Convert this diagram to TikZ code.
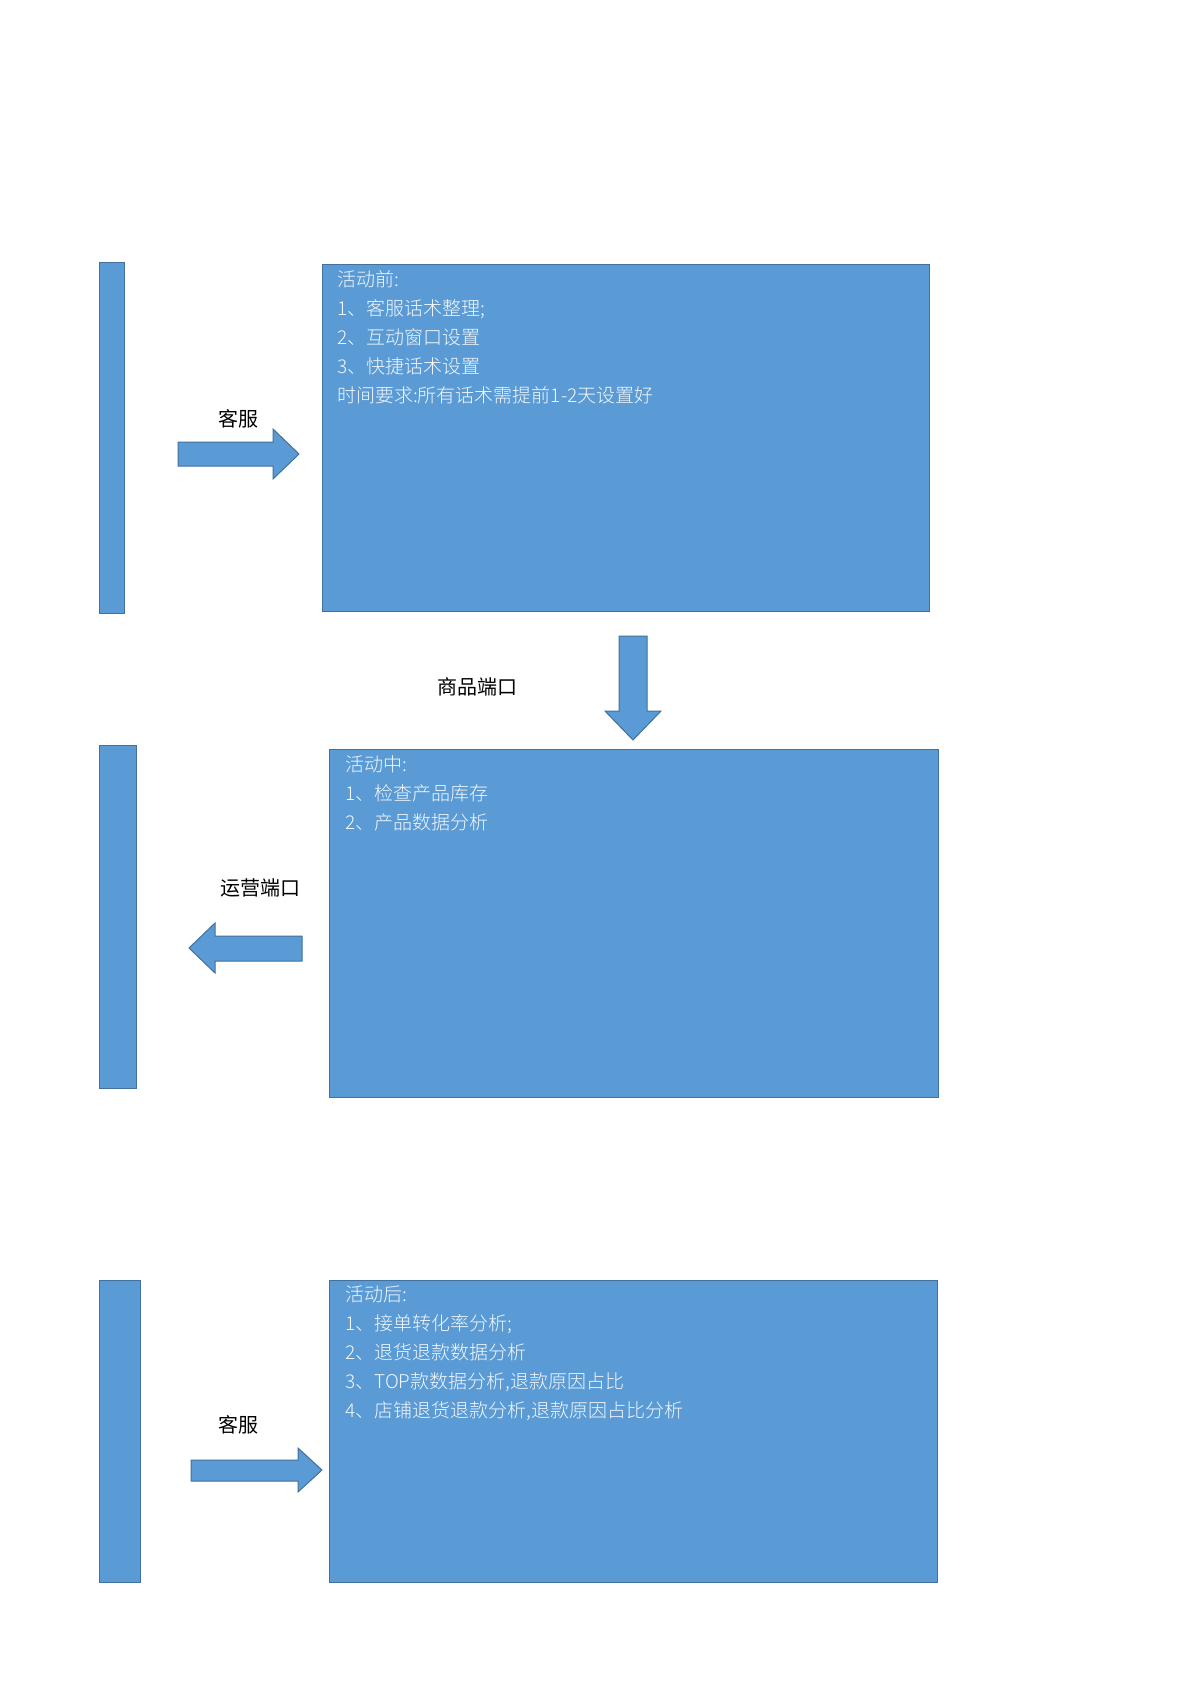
\documentclass[tikz,border=0pt]{standalone}
\usepackage{fontspec}
\setmainfont{Noto Sans CJK SC}
\begin{document}
\begin{tikzpicture}[x=1pt,y=-1pt,
  blk/.style={fill=bl,draw=bd,line width=1pt},
  lbl/.style={font=\fontsize{20}{24}\selectfont,text=black},
  txt/.style={font=\fontsize{19}{29}\selectfont\lightfont,text=white!92!bl,align=left,anchor=north west,inner sep=0pt}]
\definecolor{bl}{HTML}{5B9BD5}
\definecolor{bd}{HTML}{41719C}
\newfontface\lightfont{Noto Sans CJK SC Light}
\useasboundingbox (0,0) rectangle (1200,1698);
\fill[white] (0,0) rectangle (1200,1698);
% bars
\draw[blk] (99,262) rectangle (124,613) node[coordinate](b1){};
\draw[blk] (99,745) rectangle (136,1088) node[coordinate](b2){};
\draw[blk] (99,1280) rectangle (140,1582) node[coordinate](b3){};
% boxes
\draw[blk] (322,264) rectangle (929,611);
\draw[blk] (329,749) rectangle (938,1097);
\draw[blk] (329,1280) rectangle (937,1582);
% arrows
\draw[blk] (178,442) -- (273,442) -- (273,429) -- (299,454) -- (273,479) -- (273,466) -- (178,466) -- cycle;
\draw[blk] (619,636) -- (647,636) -- (647,711) -- (661,711) -- (633,740) -- (605,711) -- (619,711) -- cycle;
\draw[blk] (302,936) -- (215,936) -- (215,923) -- (189,948) -- (215,973) -- (215,961) -- (302,961) -- cycle;
\draw[blk] (191,1460) -- (298,1460) -- (298,1448) -- (322,1470) -- (298,1492) -- (298,1481) -- (191,1481) -- cycle;
% labels
\node[lbl] (l1) at (238,419) {客服};
\node[lbl] (l2) at (477,687) {商品端口};
\node[lbl] (l3) at (260,888) {运营端口};
\node[lbl] (l4) at (238,1425) {客服};
% texts
\node[txt] (t1) at (337,270) {活动前:\\1、客服话术整理;\\2、互动窗口设置\\3、快捷话术设置\\时间要求:所有话术需提前1-2天设置好};
\node[txt] (t2) at (345,755) {活动中:\\1、检查产品库存\\2、产品数据分析};
\node[txt] (t3) at (345,1286) {活动后:\\1、接单转化率分析;\\2、退货退款数据分析\\3、TOP款数据分析,退款原因占比\\4、店铺退货退款分析,退款原因占比分析};
\end{tikzpicture}
\end{document}
